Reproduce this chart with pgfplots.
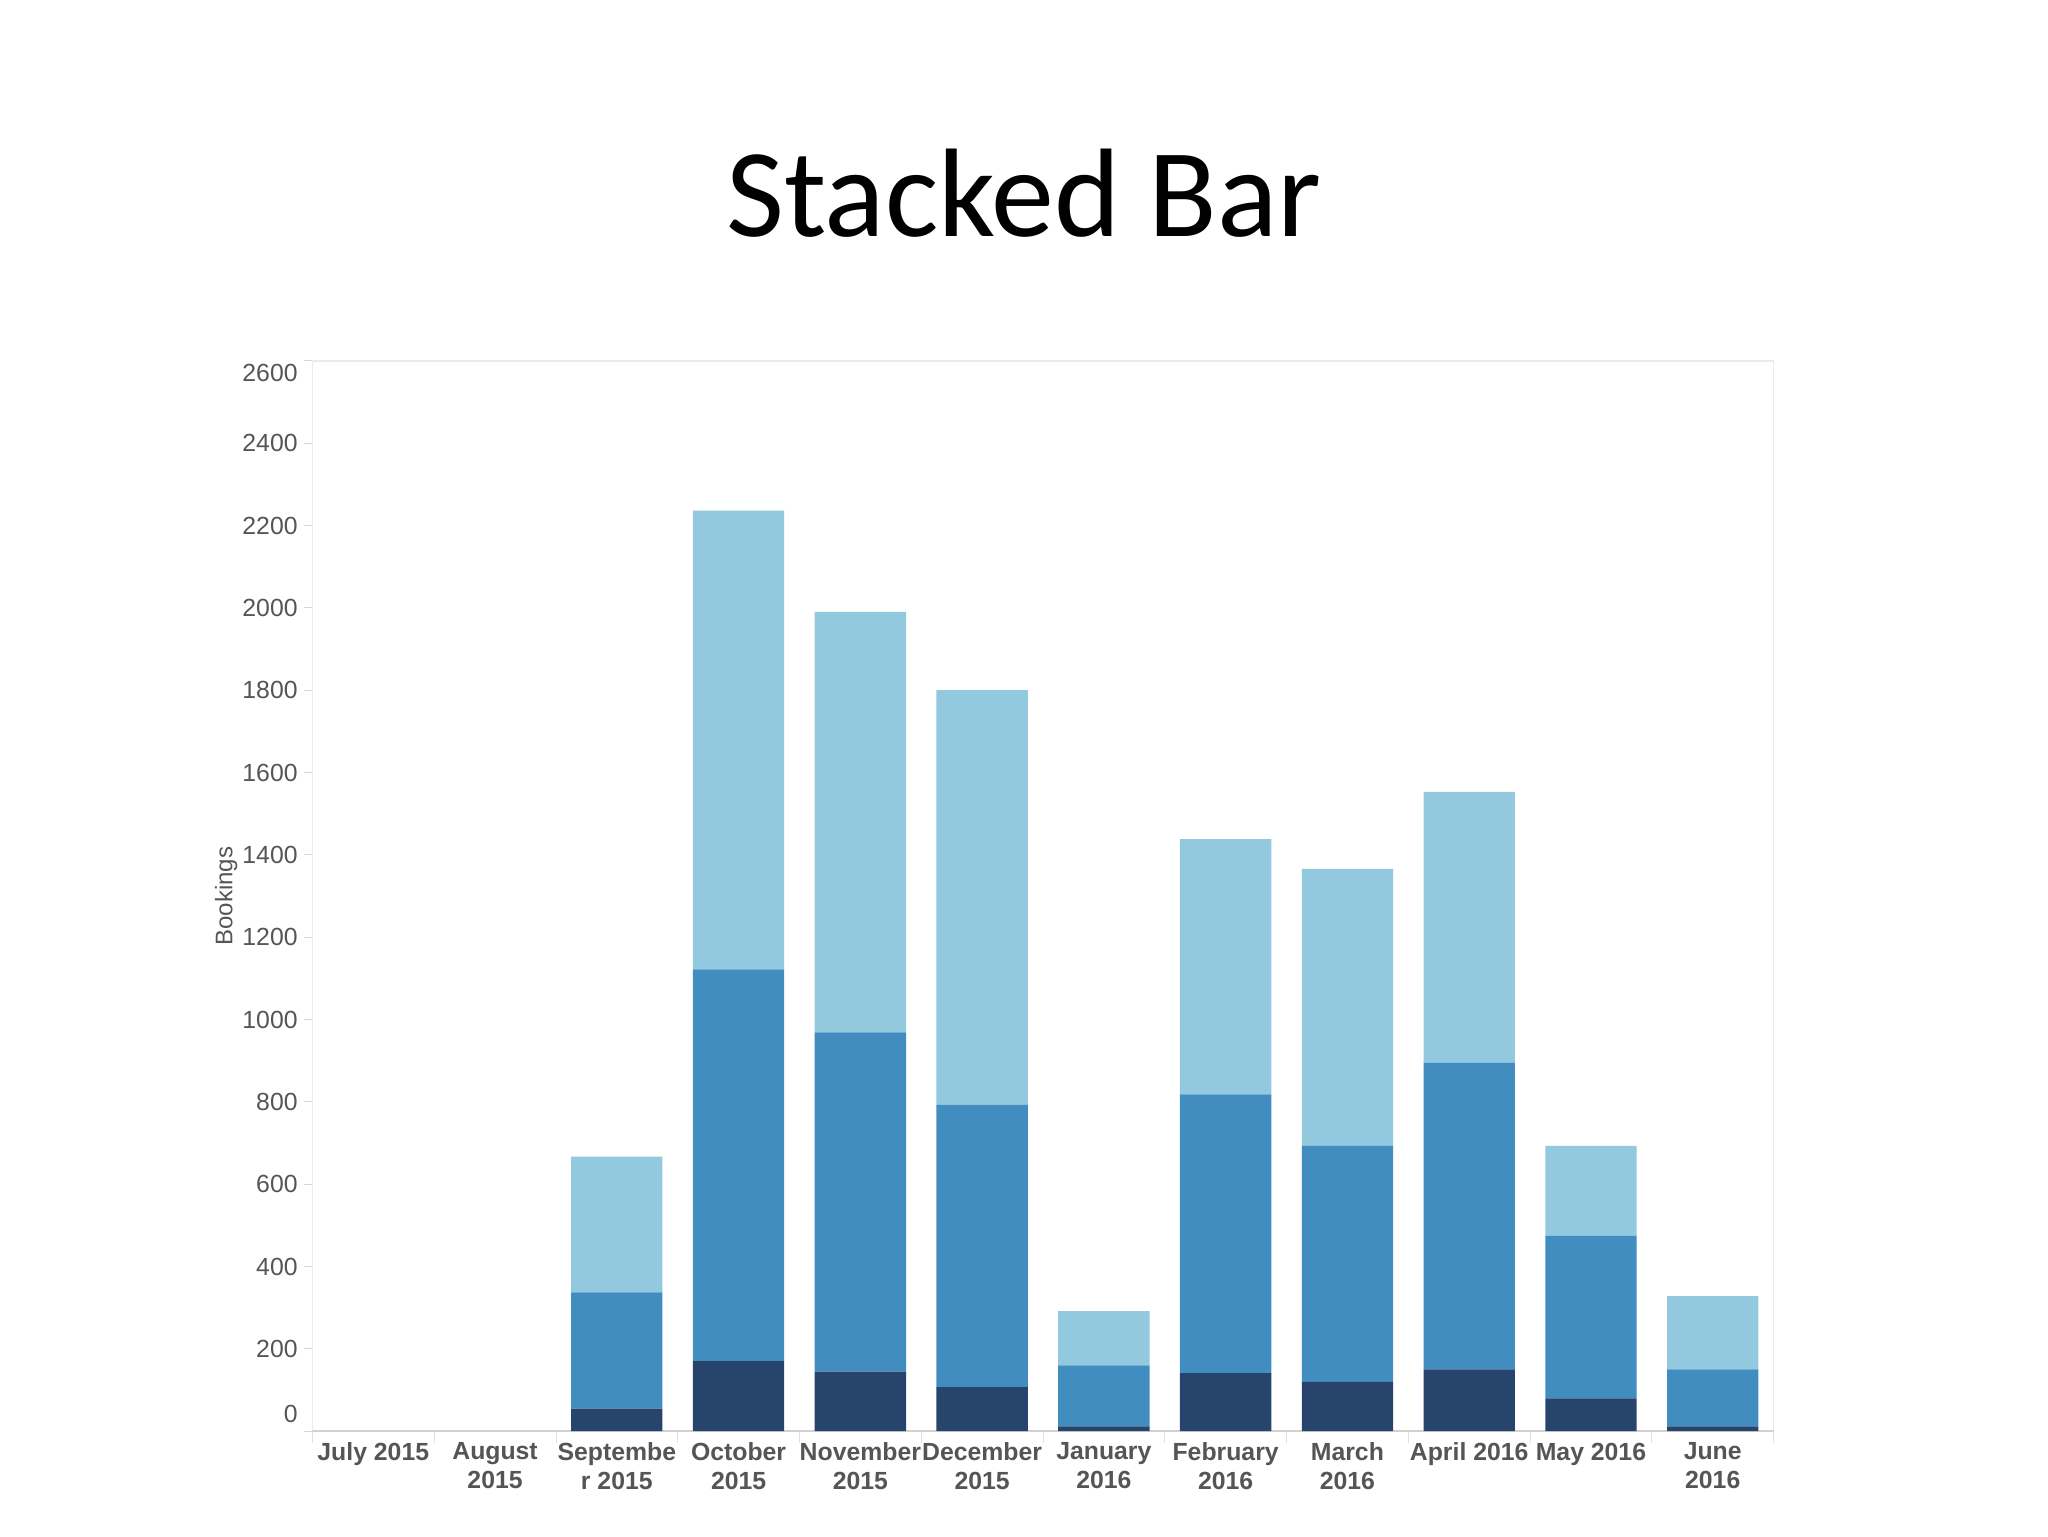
\documentclass[border=0pt]{standalone}
\usepackage{fontspec}
\setmainfont{Liberation Sans}
\newfontfamily\titlefont{Carlito}
\usepackage{pgfplots}
\usepackage{pgfplotstable}
\pgfplotsset{compat=1.18}

\definecolor{bdark}{HTML}{27446D}
\definecolor{bmid}{HTML}{428DBF}
\definecolor{blight}{HTML}{93C9DF}
\definecolor{labgray}{HTML}{555555}

% bookings per month, three segments stacked from the bottom
\pgfplotstableread{
x dark mid light
0 0 0 0
1 0 0 0
2 55 282 330
3 170 952 1114
4 145 824 1021
5 107 686 1007
6 12 148 132
7 141 677 620
8 120 573 673
9 150 745 658
10 80 395 218
11 12 138 178
}\bookings

\begin{document}
\begin{tikzpicture}
\path[use as bounding box] (0,0) rectangle (512pt,384pt);
\node[font=\titlefont\fontsize{31.5}{36}\selectfont, anchor=base] at (256pt,325pt) {Stacked Bar};
\begin{axis}[
    at={(78.1pt,26.2pt)}, anchor=south west,
    width=365.3pt, height=267.6pt, scale only axis,
    ybar stacked, bar width=0.75,
    xmin=-0.5, xmax=11.5,
    ymin=0, ymax=2600,
    ytick={0,200,...,2600},
    xtick={0,...,11},
    xticklabels={July 2015, August\\2015, Septembe\\r 2015, October\\2015,
        November\\2015, December\\2015, January\\2016, February\\2016,
        March\\2016, April 2016, May 2016, June\\2016},
    minor xtick={-0.5,0.5,...,11.5},
    xtick pos=bottom, ytick pos=left,
    x tick style={draw=none},
    minor x tick style={draw=black!12},
    y tick style={draw=black!15},
    tick align=outside,
    major tick length=2pt, minor tick length=3pt,
    axis line style={draw=black!8},
    scaled y ticks=false,
    /pgf/number format/1000 sep={},
    /pgf/number format/assume math mode=true,
    % first and last labels are pulled inside the axis, as in the original
    yticklabel={\ifnum\ticknum=0 \raisebox{2.1pt}[0pt][0pt]{\pgfmathprintnumber{\tick}}%
        \else\ifnum\ticknum=13 \raisebox{-5.2pt}[0pt][0pt]{\pgfmathprintnumber{\tick}}%
        \else\pgfmathprintnumber{\tick}\fi\fi},
    yticklabel style={font=\fontsize{6.2}{7}\selectfont, text=labgray, inner sep=0pt, xshift=-1.5pt},
    xticklabel style={font=\bfseries\fontsize{6.2}{7.2}\selectfont, text=labgray, align=center, inner sep=0pt, yshift=-0.7pt},
    ylabel={Bookings},
    ylabel style={font=\fontsize{6}{7}\selectfont, text=labgray, at={(axis description cs:-0.059,0.5)}, anchor=center},
    clip=false,
]
\addplot[fill=bdark, draw=none] table[x=x, y=dark] {\bookings};
\addplot[fill=bmid, draw=none] table[x=x, y=mid] {\bookings};
\addplot[fill=blight, draw=none] table[x=x, y=light] {\bookings};
\draw[black!18] (axis cs:-0.5,0) -- (axis cs:11.5,0);
\end{axis}
\end{tikzpicture}
\end{document}
